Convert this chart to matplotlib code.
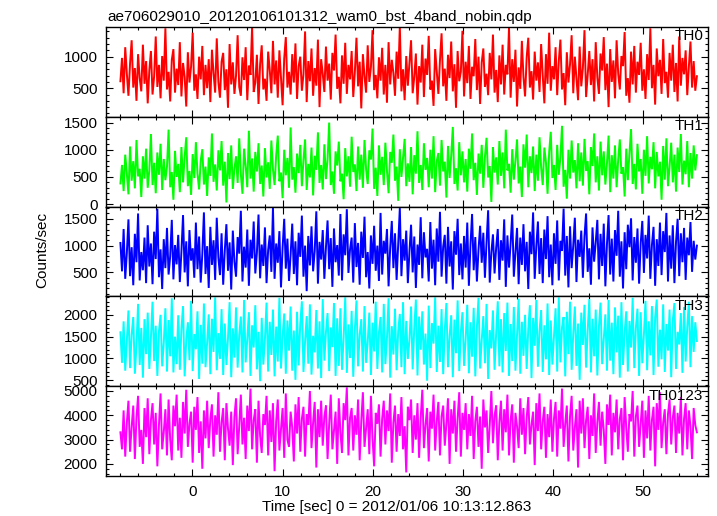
#!/usr/bin/env python3
"""WAM 4 band light curve (qdp style) redrawn with matplotlib."""

import numpy as np
import matplotlib.pyplot as plt
from matplotlib.ticker import MultipleLocator

TITLE = "ae706029010_20120106101312_wam0_bst_4band_nobin.qdp"
XLABEL = "Time [sec] 0 = 2012/01/06 10:13:12.863"
YLABEL = "Counts/sec"

T_START = -8.0
T_STOP = 56.0

BANDS = ["TH0", "TH1", "TH2", "TH3", "TH0123"]
COLORS = ["#ff0000", "#00ff00", "#0000ff", "#00ffff", "#ff00ff"]

th0 = [
    610, 980, 420, 1150, 730, 380, 890, 1260, 510, 820, 300, 1040, 660, 450, 1190, 570, 930, 260,
    780, 1090, 400, 690, 1320, 520, 870, 340, 1010, 620, 1450, 480, 760, 290, 950, 1120, 430, 810,
    550, 1230, 370, 900, 680, 210, 1070, 590, 840, 1380, 460, 720, 330, 1000, 640, 1170, 390, 870,
    500, 960, 280, 1110, 740, 430, 1290, 600, 350, 920, 1060, 470, 800, 190, 1200, 560, 910, 410,
    700, 1340, 520, 380, 990, 630, 1150, 310, 860, 710, 1470, 440, 590, 1030, 250, 880, 1180, 480,
    650, 300, 1080, 790, 420, 1250, 560, 940, 350, 1100, 670, 230, 970, 1310, 510, 760, 400, 1040,
    590, 1210, 330, 850, 1000, 460, 720, 1400, 280, 930, 610, 1130, 380, 820, 540, 1270, 200, 960,
    730, 440, 1160, 620, 890, 320, 1060, 780, 1350, 490, 680, 260, 1020, 570, 1220, 410, 870, 640,
    1090, 360, 760, 1300, 530, 920, 180, 1040, 690, 430, 1180, 600, 830, 1420, 470, 710, 340, 990,
    620, 1140, 400, 870, 270, 1230, 560, 950, 740, 380, 1080, 650, 1480, 450, 800, 310, 1010, 540,
    900, 1260, 420, 680, 1050, 240, 850, 590, 1190, 360, 970, 710, 1330, 480, 620, 220, 1120, 770,
    410, 940, 1370, 530, 810, 300, 1030, 660, 1240, 450, 880, 190, 1090, 610, 760, 1410, 370, 920,
    580, 1170, 330, 840, 690, 1280, 470, 1000, 250, 910, 1130, 520, 730, 390, 1060, 640, 1350, 430,
    790, 280, 1020, 560, 1190, 400, 870, 720, 1460, 350, 960, 600, 1110, 210, 830, 490, 1250, 680,
    370, 990, 1300, 510, 770, 320, 1080, 620, 910, 440, 1200, 700, 260, 1040, 570, 1380, 460, 850,
    640, 1150, 390, 930, 1270, 480, 740, 230, 1070, 590, 880, 1340, 420, 1000, 650, 310, 1160, 530,
    820, 1420, 360, 710, 1090, 550, 960, 290, 1230, 670, 410, 1050, 780, 1310, 470, 890, 200, 1120,
    600, 940, 340, 1260, 730, 480, 1010, 850, 1390, 380, 660, 270, 1080, 560, 1170, 430, 920, 710,
    1220, 460, 800, 330, 1040, 630, 1450, 500, 870, 240, 1130, 690, 950, 410, 1280, 580, 760, 350,
    1060, 620, 1190, 440, 900, 290, 1320, 540, 980, 720, 1100, 390, 840, 1240, 510, 930, 460, 690,
]

th1 = [
    380, 720, 240, 910, 560, 180, 1060, 430, 790, 290, 1180, 510, 650, 130, 880, 470, 1020, 300,
    620, 1290, 350, 760, 200, 950, 540, 1110, 260, 830, 440, 690, 1370, 310, 590, 80, 980, 500,
    740, 220, 1050, 400, 870, 1230, 330, 610, 170, 920, 480, 1140, 560, 270, 800, 1010, 360, 690,
    150, 860, 520, 1300, 410, 730, 250, 990, 620, 1160, 340, 780, 30, 940, 460, 1080, 280, 650,
    880, 390, 1210, 550, 190, 1020, 700, 310, 1350, 470, 840, 230, 960, 600, 1120, 370, 710, 140,
    1030, 490, 770, 280, 1170, 640, 350, 900, 1260, 420, 580, 110, 1000, 530, 850, 300, 1410, 450,
    680, 210, 930, 570, 1090, 330, 810, 1190, 260, 740, 490, 1040, 160, 890, 630, 1320, 390, 720,
    270, 1100, 460, 820, 1500, 350, 600, 190, 970, 710, 1150, 420, 560, 90, 1030, 510, 880, 320,
    1240, 590, 730, 240, 1060, 450, 910, 300, 1180, 640, 370, 990, 820, 1390, 280, 670, 150, 1080,
    540, 870, 350, 1130, 610, 200, 960, 760, 1280, 430, 690, 60, 1010, 500, 840, 1200, 330, 750,
    410, 1050, 180, 900, 560, 1340, 390, 720, 260, 1120, 630, 850, 310, 1000, 470, 1250, 220, 790,
    940, 340, 1180, 600, 780, 120, 1070, 480, 890, 1420, 370, 660, 250, 1140, 530, 970, 400, 830,
    230, 1020, 650, 1300, 440, 760, 170, 930, 560, 1090, 300, 870, 1220, 490, 700, 40, 1050, 580,
    860, 360, 1160, 520, 950, 290, 1370, 620, 740, 210, 1010, 450, 800, 1190, 380, 690, 130, 1100,
    670, 1280, 310, 880, 570, 1060, 240, 910, 430, 1230, 680, 350, 1040, 770, 190, 960, 1330, 480,
    720, 260, 1090, 540, 860, 1440, 320, 630, 100, 1000, 470, 1170, 580, 810, 290, 1120, 420, 950,
    340, 1200, 610, 790, 180, 1050, 700, 1300, 400, 880, 250, 1150, 530, 970, 360, 750, 1260, 220,
    900, 470, 1080, 310, 820, 1190, 560, 680, 140, 1020, 440, 930, 1380, 370, 740, 270, 1110, 600,
    830, 190, 1000, 520, 1250, 380, 870, 640, 1140, 290, 960, 510, 780, 80, 1070, 450, 1210, 330,
    690, 1130, 400, 910, 230, 1040, 590, 1290, 360, 800, 550, 1160, 310, 940, 470, 1080, 620, 900,
]

th2 = [
    1050, 520, 1310, 380, 860, 1490, 430, 970, 260, 1220, 690, 1600, 350, 880, 540, 1150, 300, 1380,
    610, 1040, 280, 1260, 750, 1690, 410, 930, 190, 1120, 580, 1330, 460, 800, 1480, 370, 1010, 650,
    1200, 320, 890, 1570, 500, 1080, 240, 1290, 720, 950, 400, 1430, 560, 1170, 310, 840, 1620, 470,
    990, 210, 1350, 640, 1100, 360, 1520, 780, 450, 1230, 270, 910, 1400, 530, 1060, 180, 1280, 700,
    420, 1160, 850, 1650, 330, 980, 590, 1300, 250, 1110, 760, 1450, 480, 870, 1580, 390, 1020, 620,
    1340, 300, 920, 1190, 510, 1710, 380, 1040, 680, 1270, 220, 960, 1500, 570, 1130, 340, 830, 1410,
    470, 1080, 260, 1240, 790, 1560, 420, 1000, 150, 1180, 630, 1360, 520, 900, 1640, 290, 1070, 740,
    1290, 380, 970, 1470, 560, 1140, 230, 1320, 690, 1010, 440, 1590, 350, 1210, 820, 1680, 490, 930,
    1150, 310, 1420, 600, 1050, 270, 1260, 770, 1540, 410, 880, 200, 1190, 660, 1370, 530, 1000, 340,
    1610, 460, 1090, 850, 1310, 240, 960, 1460, 580, 1230, 360, 1030, 1700, 430, 1120, 720, 1280, 300,
    890, 1390, 500, 1170, 210, 1020, 640, 1530, 390, 1250, 780, 940, 330, 1440, 570, 1110, 260, 1320,
    700, 1630, 420, 980, 1200, 290, 1350, 610, 1080, 180, 1270, 830, 1500, 450, 1040, 370, 1180, 590,
    1430, 250, 1010, 1590, 540, 1160, 330, 920, 1370, 680, 1240, 400, 1060, 1660, 310, 870, 1210, 480,
    960, 1310, 360, 1100, 720, 1490, 230, 1190, 590, 1040, 1580, 420, 880, 1330, 280, 1150, 640, 1400,
    520, 1070, 190, 1260, 840, 1620, 380, 990, 1450, 470, 1140, 300, 1300, 750, 1550, 410, 1020, 260,
    1230, 660, 1470, 350, 1090, 900, 1690, 440, 1180, 220, 1360, 580, 1000, 1520, 320, 1110, 790, 1280,
    400, 1170, 1600, 510, 950, 270, 1340, 700, 1060, 1480, 370, 1220, 620, 1410, 240, 1030, 1570, 460,
    1130, 330, 1290, 810, 1650, 420, 1080, 200, 1250, 560, 1390, 970, 1510, 350, 1160, 680, 1320, 290,
    1040, 1460, 490, 1200, 760, 1560, 380, 1010, 1350, 250, 1120, 620, 1430, 450, 1270, 880, 1610, 330,
    1190, 570, 1380, 300, 1070, 1500, 430, 1230, 690, 1330, 360, 1150, 820, 1440, 510, 1090, 740, 1000,
]

th3 = [
    1600, 900, 1850, 720, 1400, 2100, 780, 1550, 1950, 650, 1300, 2250, 850, 1700, 560, 1900, 1100, 2050,
    760, 1480, 2300, 940, 1750, 600, 1620, 2000, 820, 1350, 2150, 700, 1880, 1050, 2380, 680, 1500, 870,
    1990, 740, 1680, 2200, 590, 1420, 1830, 960, 2320, 710, 1560, 1210, 2080, 530, 1770, 880, 2260, 800,
    1360, 2010, 640, 1910, 1150, 2400, 730, 1580, 990, 2130, 620, 1800, 850, 1470, 2290, 570, 1690, 1020,
    2170, 790, 1540, 1960, 680, 2340, 910, 1430, 2060, 600, 1760, 1250, 2220, 750, 1610, 480, 1930, 860,
    1450, 2280, 700, 1840, 1080, 2120, 590, 1730, 930, 2390, 770, 1500, 2030, 650, 1870, 1180, 2190, 720,
    1640, 510, 2070, 840, 1790, 2310, 690, 1390, 1970, 880, 2240, 630, 1520, 1140, 2110, 770, 1850, 550,
    2360, 950, 1600, 2040, 710, 1710, 1260, 2270, 600, 1920, 830, 2150, 740, 1460, 2400, 670, 1780, 1010,
    2090, 580, 1670, 2330, 820, 1550, 1900, 700, 2200, 900, 1370, 2050, 620, 1820, 1160, 2300, 760, 1590,
    1950, 680, 2250, 870, 1480, 2380, 560, 1740, 1090, 2140, 730, 1630, 2020, 800, 2290, 640, 1860, 990,
    1420, 2190, 750, 1700, 2350, 610, 1960, 1200, 2080, 860, 1570, 490, 2210, 780, 1810, 1340, 2400, 690,
    1750, 920, 2130, 640, 1660, 2270, 800, 1510, 1990, 570, 1890, 1120, 2330, 710, 1600, 2060, 830, 1440,
    2230, 660, 1830, 1040, 2160, 590, 1720, 2390, 770, 1410, 1970, 890, 2250, 530, 1650, 1230, 2100, 740,
    1580, 2310, 820, 1900, 680, 2040, 1170, 2280, 600, 1790, 940, 2180, 720, 1530, 2370, 650, 1840, 1060,
    2000, 760, 1680, 2220, 550, 1930, 1290, 2340, 810, 1620, 2110, 690, 1760, 980, 2260, 620, 1870, 860,
    1490, 2150, 700, 2400, 910, 1710, 1950, 590, 2070, 1100, 2300, 740, 1560, 2190, 830, 1800, 510, 2050,
    1310, 2230, 790, 1640, 2360, 680, 1910, 1050, 2120, 610, 1730, 2280, 870, 1460, 2010, 720, 2340, 950,
    1820, 640, 2170, 1140, 1980, 560, 2290, 850, 1590, 2080, 700, 1860, 1250, 2390, 780, 1700, 2140, 600,
    2060, 890, 1540, 2320, 730, 1850, 1070, 2200, 620, 1940, 2350, 810, 1660, 980, 2240, 690, 1790, 1180,
    2120, 570, 1880, 2270, 760, 1610, 1320, 2040, 670, 2180, 930, 1720, 2300, 800, 1970, 1150, 1830, 1400,
]

th0123 = [
    3300, 2600, 4200, 2300, 3700, 4600, 2500, 3500, 4400, 2200, 3900, 4800, 2700, 3400, 2000, 4300, 3100, 4700,
    2400, 3800, 4500, 2800, 4100, 1900, 3600, 4900, 2600, 3300, 4250, 2350, 4650, 3000, 2150, 4400, 3550, 4850,
    2550, 3900, 2250, 4550, 3250, 5050, 2700, 3650, 4150, 2050, 4350, 3400, 4750, 2450, 3750, 1800, 4200, 3050,
    4600, 2650, 3850, 4450, 2300, 4000, 3200, 4950, 2500, 3700, 4300, 2150, 4500, 3450, 2750, 4150, 1950, 3950,
    4700, 2400, 3550, 4850, 2800, 3900, 2200, 4400, 3350, 5100, 2600, 3800, 4250, 2050, 4600, 3150, 2450, 4050,
    3600, 4800, 2350, 4200, 2900, 4500, 1700, 3750, 4650, 2550, 3450, 4300, 2250, 4900, 3000, 2700, 4150, 3500,
    2100, 4450, 3250, 4750, 2500, 3850, 4350, 2300, 4050, 3600, 5000, 2650, 3700, 4550, 1850, 4250, 3100, 4600,
    2750, 3950, 4400, 2200, 3650, 4850, 2600, 3400, 4150, 2000, 4700, 3300, 2450, 4500, 3800, 5150, 2350, 3900,
    4300, 2550, 4000, 3200, 4650, 2150, 3750, 4950, 2700, 3500, 4250, 2400, 4800, 3050, 1900, 4100, 3650, 4450,
    2300, 3850, 4600, 2800, 4200, 3350, 4900, 2050, 3700, 4400, 2500, 4050, 3150, 4750, 2600, 3550, 1650, 4350,
    3800, 4650, 2450, 4000, 3000, 4500, 2250, 3900, 5050, 2650, 3600, 4300, 2100, 4150, 3450, 4850, 2550, 3750,
    4550, 2350, 3950, 4400, 2750, 3650, 4700, 2000, 4250, 3250, 4600, 2500, 3850, 4950, 2300, 4100, 3400, 4500,
    2600, 4050, 3150, 4800, 2200, 3750, 4350, 2700, 3950, 1800, 4650, 3500, 4200, 2450, 3600, 5000, 2850, 4000,
    4400, 2150, 3700, 4600, 2550, 4250, 3300, 4850, 2350, 3800, 4450, 2050, 4100, 3550, 2650, 4700, 3200, 4300,
    2400, 3900, 4750, 2800, 3600, 4150, 1950, 4500, 3350, 4900, 2600, 3750, 4350, 2250, 4050, 3100, 4650, 2500,
    3850, 4550, 2300, 4200, 3450, 5100, 2700, 3650, 4400, 2100, 3950, 4800, 2550, 3500, 4250, 1850, 4600, 3250,
    4700, 2650, 3800, 4350, 2200, 4000, 3150, 4900, 2450, 3700, 4550, 2750, 4150, 3400, 2000, 4450, 3600, 4850,
    2350, 4100, 3300, 4650, 2600, 3850, 4300, 2150, 4750, 3500, 2500, 4050, 3750, 5000, 2300, 3950, 4400, 2700,
    3650, 4600, 2250, 4200, 3050, 4800, 2550, 3800, 4350, 1900, 4500, 3400, 4950, 2650, 3700, 4250, 2400, 4050,
    4650, 2800, 3900, 4400, 2450, 4100, 3250, 4750, 2350, 3850, 4500, 2600, 4200, 3550, 2200, 4300, 3600, 3300,
]

SERIES = [th0, th1, th2, th3, th0123]
YLIMS = [(50, 1475), (-44, 1610), (52, 1730), (362, 2422), (1494, 5193)]
YMAJOR = [500, 500, 500, 500, 1000]
YMINOR = [100, 100, 100, 100, 200]
XLIM = (-9.6, 57.2)

plt.rcParams["font.family"] = ["Liberation Sans", "DejaVu Sans"]
plt.rcParams["font.size"] = 11


def style_axis(ax, major, minor):
    """qdp/pgplot 风格: 四边向内刻度。"""
    ax.xaxis.set_major_locator(MultipleLocator(10))
    ax.xaxis.set_minor_locator(MultipleLocator(2))
    ax.yaxis.set_major_locator(MultipleLocator(major))
    ax.yaxis.set_minor_locator(MultipleLocator(minor))
    ax.tick_params(which="both", direction="in", top=True, right=True, width=0.8, pad=6)
    ax.tick_params(which="major", length=5)
    ax.tick_params(which="minor", length=2.5)
    for spine in ax.spines.values():
        spine.set_linewidth(1.0)
        spine.set_zorder(3)


def main():
    fig = plt.figure(figsize=(7.17, 5.16), dpi=100)
    W, H = 717.0, 516.0
    left, right = 106.0, 707.7
    top, panel_h = 26.7, 89.9

    for i, (name, color, values) in enumerate(zip(BANDS, COLORS, SERIES)):
        y0 = H - (top + panel_h * (i + 1))
        ax = fig.add_axes([left / W, y0 / H, (right - left) / W, panel_h / H])
        t = np.linspace(T_START, T_STOP, len(values))
        ax.plot(t, values, color=color, lw=1.4, solid_joinstyle="miter")
        ax.set_xlim(*XLIM)
        ax.set_ylim(*YLIMS[i])
        style_axis(ax, YMAJOR[i], YMINOR[i])
        ax.text(0.993, 0.97, name, transform=ax.transAxes, ha="right", va="top", zorder=4)
        if i < len(BANDS) - 1:
            ax.tick_params(labelbottom=False)

    fig.text(left / W + 0.002, 1 - 20.5 / H, TITLE, ha="left", va="baseline")
    fig.text(397 / W, 1 - 507 / H, XLABEL, ha="center", va="center")
    fig.text(42 / W, 1 - 250 / H, YLABEL, ha="center", va="center", rotation=90)

    fig.savefig("out.png", dpi=100)
    plt.close(fig)


if __name__ == "__main__":
    main()
